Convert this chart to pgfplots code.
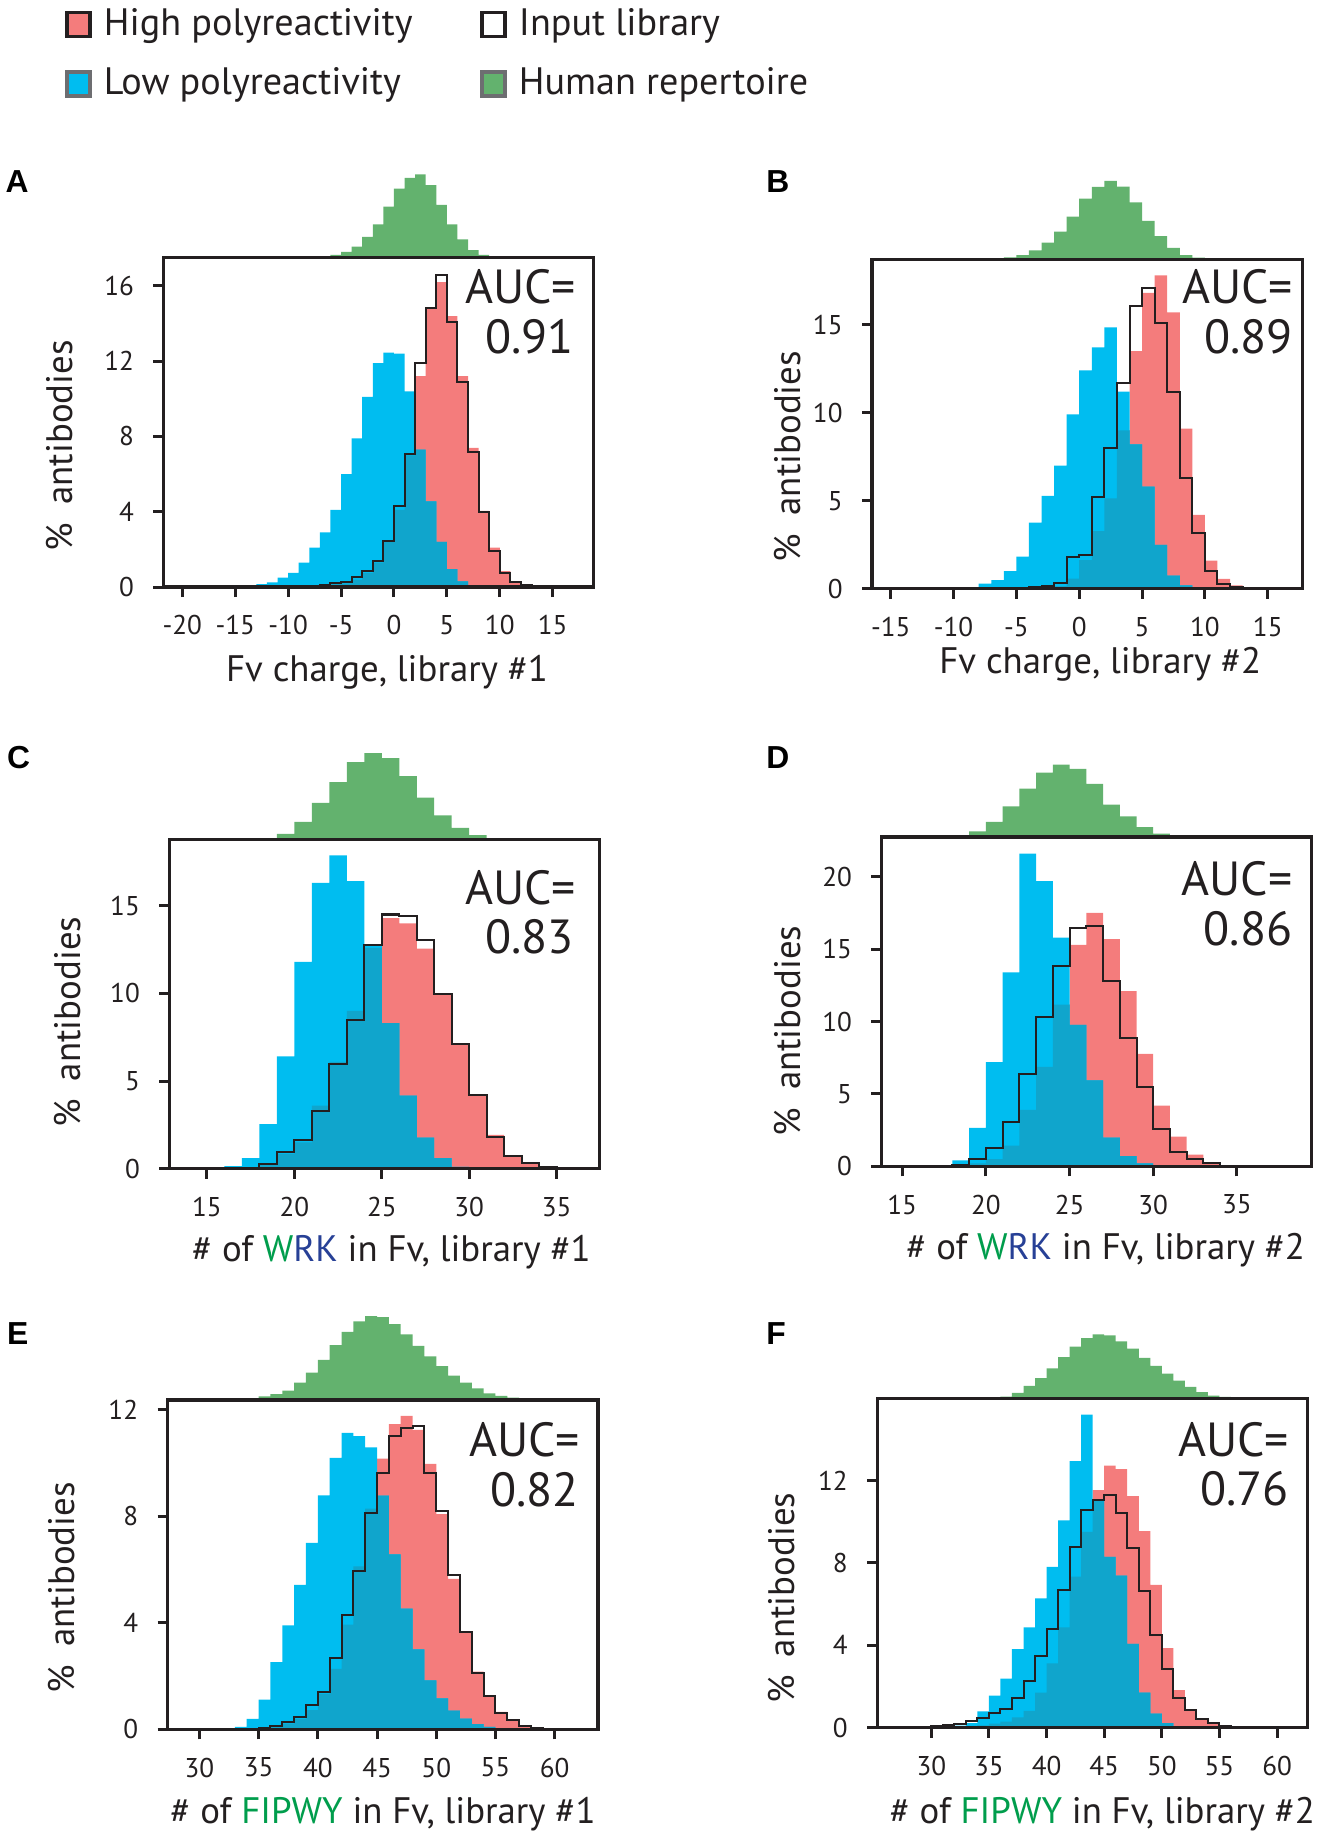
\documentclass[border=0pt]{standalone}
\usepackage{fontspec}
\setmainfont{PT Sans}
\newfontfamily\letterfont{Liberation Sans}
\usepackage{pgfplots}
\usepackage{pgfplotstable}
\pgfplotsset{compat=1.18}

\definecolor{cred}{RGB}{244,124,124}
\definecolor{cblue}{RGB}{0,189,240}
\definecolor{cteal}{RGB}{16,165,204}
\definecolor{cgreen}{RGB}{99,178,110}
\definecolor{cdark}{RGB}{35,31,32}
\definecolor{cgray}{RGB}{109,110,113}
\definecolor{tgreen}{RGB}{0,157,76}
\definecolor{tnavy}{RGB}{39,64,150}

% x = left bin edge; lo = low, hi = high polyreactivity, inp = input library
\pgfplotstableread{
x lo hi inp
-13 0 0 0
-13 0.15 0 0
-12 0.25 0 0
-11 0.5 0 0
-10 0.75 0 0
-9 1.3 0 0.02
-8 2.1 0.05 0.05
-7 2.9 0.1 0.12
-6 4.1 0.15 0.2
-5 6.0 0.2 0.27
-4 7.9 0.4 0.53
-3 10.1 0.74 0.83
-2 11.9 1.3 1.36
-1 12.45 2.4 2.46
0 12.4 4.1 4.3
1 10.4 7.0 7.07
2 7.3 11.2 11.9
3 4.55 14.8 14.8
4 2.4 16.2 16.6
5 0.95 14.4 14.1
6 0.3 11.2 10.9
7 0.05 7.4 7.2
8 0 4.05 4.0
9 0 2.1 1.9
10 0 0.85 0.75
11 0 0.3 0.25
12 0 0.1 0.1
13 0 0.02 0.02
14 0 0 0
}\dataA
\pgfplotstableread{
x g
-13 1
-12 1
-11 1
-10 1
-9 1
-8 2
-7 3
-6 8
-5 16
-4 31
-3 58
-2 93
-1 143
0 193
1 223
2 233
3 203
4 148
5 93
6 51
7 21
8 8
9 3
10 2
11 1
12 1
13 1
14 1
15 0
}\greenA

\pgfplotstableread{
x lo hi inp
-9 0 0 0
-9 0.08 0 0
-8 0.3 0 0
-7 0.5 0 0
-6 1.0 0 0.02
-5 1.83 0.02 0.05
-4 3.76 0.03 0.1
-3 5.28 0.05 0.15
-2 7.0 0.15 0.34
-1 9.9 0.58 1.82
0 12.4 1.63 1.91
1 13.7 3.28 5.24
2 14.84 5.14 7.98
3 11.2 8.99 11.7
4 8.2 13.5 16.05
5 5.8 16.8 17.07
6 2.5 17.8 15.1
7 0.75 15.7 11.2
8 0.2 9.1 6.3
9 0.05 4.2 3.15
10 0 1.6 1.0
11 0 0.57 0.3
12 0 0.2 0.1
13 0 0.08 0.04
14 0 0 0
}\dataB
\pgfplotstableread{
x g
-10 1
-9 1
-8 2
-7 3
-6 6
-5 12
-4 25
-3 47
-2 78
-1 120
0 170
1 203
2 220
3 204
4 160
5 108
6 65
7 32
8 12
9 5
10 2
11 1
12 1
13 0
}\greenB

\pgfplotstableread{
x lo hi inp
15 0 0 0
15 0.05 0 0
16 0.14 0 0
17 0.6 0.05 0.04
18 2.54 0.2 0.24
19 6.41 0.85 0.94
20 11.8 1.5 1.61
21 16.3 3.6 3.28
22 17.87 6.1 5.98
23 16.4 9.0 8.51
24 12.8 12.6 12.76
25 8.3 14.3 14.5
26 4.17 14.0 14.4
27 1.77 12.56 13.03
28 0.6 9.97 9.97
29 0.1 7.1 7.12
30 0 4.17 4.23
31 0 1.93 1.83
32 0 0.77 0.75
33 0 0.3 0.3
34 0 0.1 0.1
35 0 0 0
}\dataC
\pgfplotstableread{
x g
19 15
20 49
21 102
22 160
23 216
24 241
25 227
26 177
27 117
28 67
29 32
30 12
31 0
}\greenC

\pgfplotstableread{
x lo hi inp
17 0 0 0
17 0.05 0 0
18 0.4 0.05 0.07
19 2.66 0.2 0.5
20 7.2 0.5 1.26
21 13.4 1.43 3.08
22 21.6 3.9 6.36
23 19.7 6.86 10.3
24 15.8 11.17 13.86
25 9.77 15.3 16.47
26 5.94 17.5 16.6
27 1.97 15.7 12.8
28 0.7 12.1 8.83
29 0.2 7.77 5.5
30 0.05 4.19 2.6
31 0 2.05 1.0
32 0 0.81 0.5
33 0 0.27 0.2
34 0 0.05 0.05
35 0 0 0
}\dataD
\pgfplotstableread{
x g
17 1
18 3
19 15
20 42
21 85
22 135
23 180
24 202
25 190
26 148
27 90
28 57
29 27
30 9
31 3
32 1
33 0
}\greenD

\pgfplotstableread{
x lo hi inp
33 0 0 0
33 0.09 0 0
34 0.39 0.02 0.02
35 1.12 0.05 0.06
36 2.52 0.12 0.14
37 3.9 0.22 0.29
38 5.42 0.39 0.47
39 7.0 0.72 0.93
40 8.78 1.33 1.42
41 10.19 2.27 2.67
42 11.13 3.93 4.3
43 11.0 6.12 5.96
44 10.58 8.28 8.13
45 8.77 10.16 9.63
46 6.57 11.45 11.0
47 4.53 11.76 11.3
48 3.0 11.24 11.37
49 1.84 9.96 9.62
50 1.16 8.08 8.2
51 0.7 5.65 5.78
52 0.4 3.65 3.65
53 0.2 2.17 2.1
54 0.09 1.25 1.25
55 0.04 0.66 0.62
56 0 0.35 0.34
57 0 0.13 0.14
58 0 0.07 0.06
59 0 0 0
}\dataE
\pgfplotstableread{
x g
30 1
31 1
32 1
33 2
34 5
35 10
36 17
37 27
38 50
39 78
40 115
41 157
42 195
43 225
44 240
45 237
46 217
47 188
48 155
49 125
50 97
51 70
52 50
53 33
54 19
55 12
56 7
57 4
58 2
59 1
60 0
}\greenE

\pgfplotstableread{
x lo hi inp
29 0 0 0
29 0 0 0.05
30 0.02 0.02 0.07
31 0.05 0.02 0.14
32 0.1 0.04 0.2
33 0.22 0.06 0.34
34 0.8 0.12 0.48
35 1.56 0.2 0.71
36 2.38 0.3 0.93
37 3.82 0.5 1.44
38 4.87 0.82 2.29
39 6.28 1.71 3.48
40 7.81 3.12 4.8
41 10.07 4.87 6.7
42 12.94 7.33 8.78
43 15.2 9.51 10.56
44 11.07 11.54 11.04
45 8.29 12.73 11.32
46 7.39 12.56 10.44
47 4.07 11.24 8.74
48 1.7 9.54 6.62
49 0.68 6.93 4.5
50 0.22 3.87 2.85
51 0.08 1.82 1.44
52 0 0.85 0.88
53 0 0.37 0.42
54 0 0.2 0.22
55 0 0.07 0.08
56 0 0.02 0.03
57 0 0 0
}\dataF
\pgfplotstableread{
x g
31 1
32 1
33 1
34 2
35 3
36 5
37 16
38 36
39 58
40 86
41 118
42 148
43 172
44 183
45 180
46 163
47 142
48 116
49 93
50 71
51 51
52 33
53 18
54 8
55 4
56 2
57 1
58 0
}\greenF

\pgfplotsset{
  mainax/.style={scale only axis, width=128.45pt, height=98.35pt, anchor=south west,
    axis on top, clip=false, ymin=0, tick align=outside, tick pos=left,
    major tick length=3pt,
    axis line style={line width=1pt, draw=cdark},
    tick style={line width=0.9pt, draw=cdark},
    ticklabel style={font=\fontsize{8.1}{9}\selectfont, text=cdark},
    xticklabel style={yshift=-2pt}, yticklabel style={xshift=-2.3pt},
    /pgf/number format/assume math mode=true,
    label style={font=\fontsize{11}{12}\selectfont, text=cdark},
    xlabel style={anchor=base}, ylabel style={anchor=center}},
  greenax/.style={scale only axis, width=128.45pt, anchor=south west, hide axis,
    ymin=0, ymax=250, clip=false},
  legax/.style={hide axis, scale only axis, width=1pt, height=1pt,
    xmin=0, xmax=1, ymin=0, ymax=1, anchor=north west,
    legend image code/.code={\draw[##1] (0pt,-3.6pt) rectangle (6.8pt,3.6pt);},
    legend style={at={(0,1)}, anchor=north west, draw=none, fill=none,
      inner sep=0pt, row sep=4.2pt, font=\fontsize{11.4}{12.5}\selectfont,
      text=cdark, cells={anchor=west}}},
}
\tikzset{
  auc/.style={anchor=base east, inner sep=0pt, font=\fontsize{14.3}{15}\selectfont, text=cdark},
  letter/.style={anchor=base west, inner sep=0pt, font=\letterfont\bfseries\fontsize{9.5}{11}\selectfont},
}
\newcommand\hists[1]{%
  \addplot[const plot, fill=cred, draw=none] table[x=x, y=hi]{#1} \closedcycle;
  \addplot[const plot, fill=cblue, draw=none] table[x=x, y=lo]{#1} \closedcycle;
  \addplot[const plot, fill=cteal, draw=none] table[x=x, y expr={min(\thisrow{lo},\thisrow{hi})}]{#1} \closedcycle;
  \addplot[const plot, draw=cdark, line width=0.6pt] table[x=x, y=inp]{#1};
}
\newcommand\greenhist[1]{%
  \addplot[const plot, fill=cgreen, draw=none] table[x=x, y=g]{#1} \closedcycle;
}
\newcommand\ylab{\%\hspace{0.5em}antibodies}
\newcommand\lgap{\hspace{1.7pt}}

\begin{document}
\begin{tikzpicture}
\path[use as bounding box] (0pt,0pt) rectangle (395.5pt,-548.8pt);

% legend
\begin{axis}[legax, at={(19.25pt,-0.3pt)}]
\addlegendimage{fill=cred, draw=cdark, line width=1.1pt}
\addlegendentry{\lgap High polyreactivity}
\addlegendimage{fill=cblue, draw=cgray, line width=1.1pt}
\addlegendentry{\lgap Low polyreactivity}
\end{axis}
\begin{axis}[legax, at={(143.15pt,-0.3pt)}]
\addlegendimage{fill=white, draw=cdark, line width=1.1pt}
\addlegendentry{\lgap Input library}
\addlegendimage{fill=cgreen, draw=cgray, line width=1.1pt}
\addlegendentry{\lgap Human repertoire}
\end{axis}

% A
\begin{axis}[greenax, height=26.67pt, at={(48.79pt,-76.93pt)}, xmin=-21.79, xmax=18.87]
\greenhist{\greenA}
\end{axis}
\begin{axis}[mainax, at={(48.79pt,-175.28pt)}, xmin=-21.79, xmax=18.87, ymax=17.5,
  xtick={-20,-15,...,15}, ytick={0,4,8,12,16},
  xlabel={Fv charge, library \#1}, xlabel style={at={(axis description cs:0.520,-0.2875)}},
  ylabel={\ylab}, ylabel style={at={(axis description cs:-0.2403,0.4285)}}]
\hists{\dataA}
\node[auc] at (axis description cs:0.9602,0.8601) {AUC=};
\node[auc] at (axis description cs:0.955,0.709) {0.91};
\node[letter] at (axis description cs:-0.3681,1.1986) {A};
\end{axis}

% B
\begin{axis}[greenax, height=26.67pt, at={(260.4pt,-77.46pt)}, xmin=-16.48, xmax=17.75]
\greenhist{\greenB}
\end{axis}
\begin{axis}[mainax, at={(260.4pt,-175.81pt)}, xmin=-16.48, xmax=17.75, ymax=18.7,
  xtick={-15,-10,...,15}, ytick={0,5,10,15},
  xlabel={Fv charge, library \#2}, xlabel style={at={(axis description cs:0.5305,-0.2569)}},
  ylabel={\ylab}, ylabel style={at={(axis description cs:-0.1962,0.4014)}}]
\hists{\dataB}
\node[auc] at (axis description cs:0.9801,0.8655) {AUC=};
\node[auc] at (axis description cs:0.9801,0.7148) {0.89};
\node[letter] at (axis description cs:-0.2471,1.2039) {B};
\end{axis}

% C
\begin{axis}[greenax, height=26.67pt, at={(50.58pt,-250.6pt)}, xmin=12.85, xmax=37.46]
\greenhist{\greenC}
\end{axis}
\begin{axis}[mainax, at={(50.58pt,-348.95pt)}, xmin=12.85, xmax=37.46, ymax=18.79,
  xtick={15,20,...,35}, ytick={0,5,10,15},
  xlabel={\# of \textcolor{tgreen}{W}\textcolor{tnavy}{RK} in Fv, library \#1},
  xlabel style={at={(axis description cs:0.5163,-0.2819)}},
  ylabel={\ylab}, ylabel style={at={(axis description cs:-0.2365,0.4445)}}]
\hists{\dataC}
\node[auc] at (axis description cs:0.9463,0.8025) {AUC=};
\node[auc] at (axis description cs:0.9414,0.6529) {0.83};
\node[letter] at (axis description cs:-0.379,1.215) {C};
\end{axis}

% D
\begin{axis}[greenax, height=26.67pt, at={(263.2pt,-249.87pt)}, xmin=13.76, xmax=39.47]
\greenhist{\greenD}
\end{axis}
\begin{axis}[mainax, at={(263.2pt,-348.22pt)}, xmin=13.76, xmax=39.47, ymax=22.76,
  xtick={15,20,...,35}, ytick={0,5,10,15,20},
  xlabel={\# of \textcolor{tgreen}{W}\textcolor{tnavy}{RK} in Fv, library \#2},
  xlabel style={at={(axis description cs:0.5213,-0.2843)}},
  ylabel={\ylab}, ylabel style={at={(axis description cs:-0.218,0.41)}}]
\hists{\dataD}
\node[auc] at (axis description cs:0.9564,0.8221) {AUC=};
\node[auc] at (axis description cs:0.9564,0.6693) {0.86};
\node[letter] at (axis description cs:-0.2689,1.2075) {D};
\end{axis}

% E
\begin{axis}[greenax, height=26.10pt, at={(50.05pt,-418.01pt)}, xmin=27.32, xmax=63.64]
\greenhist{\greenE}
\end{axis}
\begin{axis}[mainax, at={(50.05pt,-516.36pt)}, xmin=27.32, xmax=63.64, ymax=12.36,
  xtick={30,35,...,60}, ytick={0,4,8,12},
  xlabel={\# of \textcolor{tgreen}{FIPWY} in Fv, library \#1},
  xlabel style={at={(axis description cs:0.5008,-0.2868)}},
  ylabel={\ylab}, ylabel style={at={(axis description cs:-0.2474,0.4302)}}]
\hists{\dataE}
\node[auc] at (axis description cs:0.9602,0.8299) {AUC=};
\node[auc] at (axis description cs:0.9573,0.676) {0.82};
\node[letter] at (axis description cs:-0.3749,1.1683) {E};
\end{axis}

% F
\begin{axis}[greenax, height=26.10pt, at={(261.94pt,-417.52pt)}, xmin=25.31, xmax=62.64]
\greenhist{\greenF}
\end{axis}
\begin{axis}[mainax, at={(261.94pt,-515.87pt)}, xmin=25.31, xmax=62.64, ymax=15.99,
  xtick={30,35,...,60}, ytick={0,4,8,12},
  xlabel={\# of \textcolor{tgreen}{FIPWY} in Fv, library \#2},
  xlabel style={at={(axis description cs:0.5234,-0.2918)}},
  ylabel={\ylab}, ylabel style={at={(axis description cs:-0.2229,0.3929)}}]
\hists{\dataF}
\node[auc] at (axis description cs:0.9583,0.8249) {AUC=};
\node[auc] at (axis description cs:0.9583,0.676) {0.76};
\node[letter] at (axis description cs:-0.2591,1.1633) {F};
\end{axis}
\end{tikzpicture}
\end{document}
